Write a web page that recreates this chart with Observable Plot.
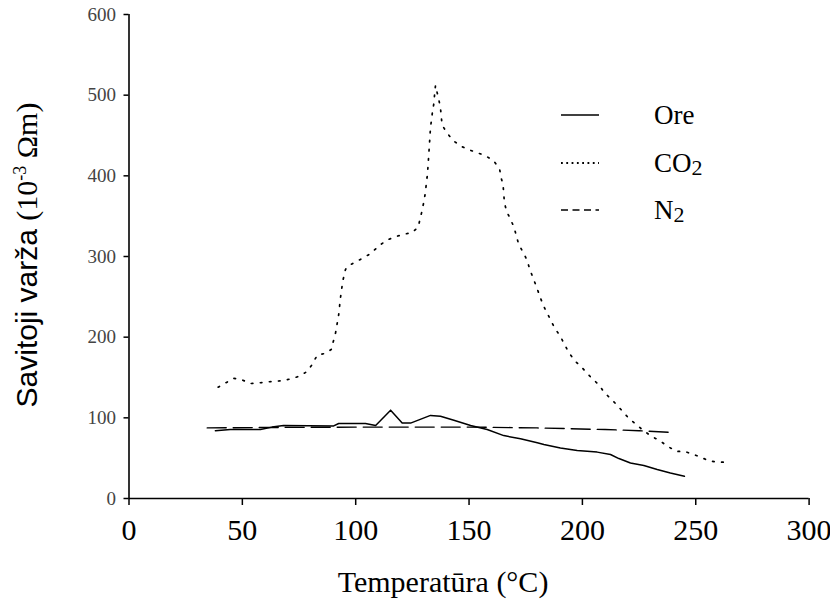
<!DOCTYPE html>
<html><head><meta charset="utf-8">
<script src="https://cdn.jsdelivr.net/npm/d3@7"></script>
<script src="https://cdn.jsdelivr.net/npm/@observablehq/plot@0.6"></script>
<style>body{margin:0;background:#fff} #chart{width:830px;height:599px}</style>
</head><body><div id="chart"></div>
<script>
// Temperature (°C) and resistivity (10^-3 Ωm)
const oreT = [38.1, 44.7, 58, 63.1, 68.2, 90.3, 92.5, 104.3, 108.8, 115.4, 120.5, 124.2, 133, 137.4, 143.3, 150.7, 158, 165.3, 172.7, 180.1, 183, 190.3, 197.7, 206.5, 212.4, 216.1, 221.2, 227.1, 233, 238.8, 245];
const oreV = [84, 85.5, 85.5, 88.5, 90.5, 90, 93, 93, 90.5, 109.5, 93.5, 93.5, 103, 102, 97, 90.5, 85.5, 78, 74, 69, 67, 62.5, 59.5, 57.5, 54.5, 49.5, 44, 41, 36, 31.5, 27.5];

const co2T = [39.3, 46.2, 49.9, 53.6, 56.5, 60.7, 67.6, 72, 75, 78.3, 80.8, 83, 86.6, 89.2, 91.1, 92.5, 93.2, 94.3, 95.5, 96.5, 102.9, 106.5, 110.6, 113.9, 117.5, 121.3, 124.9, 127.6, 128.5, 129.3, 130, 130.6, 131.5, 131.8, 132.3, 133, 133.9, 134.5, 134.8, 135.2, 135.9, 136.7, 137.4, 138.1, 140.1, 143, 147, 150.3, 157.2, 160.9, 163.5, 164.2, 165, 165.6, 166.5, 168.3, 169.8, 171.9, 174.2, 175.7, 176.8, 178.3, 179.8, 181.2, 182.3, 184, 185.9, 187.7, 190.3, 192.1, 194.1, 196.9, 199.9, 203.6, 207.2, 209.8, 213.5, 216.8, 220.1, 223.5, 227, 230.6, 234.5, 237.4, 241.5, 245, 248.6, 252.4, 255.7, 259.5, 263.6];
const co2V = [138, 149, 147, 142.5, 143, 144.5, 146, 148.7, 151.5, 157, 166, 177.6, 180, 184.7, 205, 228, 247, 269.6, 284, 288, 297.7, 303.5, 314, 320.5, 324.6, 327.6, 329.6, 336.6, 348, 357, 367, 377, 398, 408, 429, 460, 480, 490, 501, 512, 503.5, 494, 484, 463, 454, 443.5, 436, 432, 425, 418.6, 408, 397, 389, 367, 356.5, 346, 336.6, 315, 303.5, 294.4, 284, 273, 262, 251, 242.6, 232, 222, 211.6, 201, 191, 180.5, 170, 162, 150.7, 141, 131, 121, 111, 100.6, 92.3, 84, 77, 71, 65, 58.4, 58.4, 55, 51, 46.8, 45, 45];

const n2T = [34.5, 60, 100, 150, 180, 210, 225, 239];
const n2V = [87.5, 88, 88.5, 88.5, 87.5, 85.5, 84, 82];

const seriesNames = ["Ore", "CO2", "N2"];
const xTicks = [0, 50, 100, 150, 200, 250, 300];
const yTicks = [0, 100, 200, 300, 400, 500, 600];
const xLabel = "Temperatūra (°C)";

const rows = (name, T, V) => T.map((t, i) => ({series: name, t, v: V[i]}));
const ore = rows("Ore", oreT, oreV);
const co2 = rows("CO2", co2T, co2V);
const n2 = rows("N2", n2T, n2V);

const serif = "'Liberation Serif', 'Times New Roman', serif";
const sans = "'Liberation Sans', Arial, sans-serif";

const plot = Plot.plot({
  width: 830, height: 599,
  marginLeft: 128.5, marginRight: 21.4, marginTop: 14, marginBottom: 101,
  x: {domain: [0, 300]},
  y: {domain: [0, 600]},
  style: {background: "#fff", color: "#000", overflow: "visible"},
  marks: [
    Plot.axisY({ticks: yTicks, tickSize: 5, tickPadding: 8, fontSize: 19, fontFamily: serif, strokeWidth: 1.5, label: null}),
    Plot.axisX({ticks: xTicks, tickSize: 7, tickPadding: 13, fontSize: 30, fontFamily: serif, strokeWidth: 1.5, label: null}),
    Plot.ruleX([0], {y1: 0, y2: 600, strokeWidth: 1.6}),
    Plot.ruleY([0], {x1: 0, x2: 300, strokeWidth: 1.6}),
    Plot.line(n2, {x: "t", y: "v", stroke: "#000", strokeWidth: 1.4, strokeDasharray: "19,7"}),
    Plot.line(co2, {x: "t", y: "v", stroke: "#000", strokeWidth: 1.7, strokeDasharray: "1.6,7.5"}),
    Plot.line(ore, {x: "t", y: "v", stroke: "#000", strokeWidth: 1.5}),
    Plot.text([xLabel], {frameAnchor: "bottom", dx: -26, dy: 72, lineAnchor: "top", fontSize: 30, fontFamily: serif, fill: "#000"})
  ]
});
document.getElementById("chart").appendChild(plot);

const svg = d3.select(plot);
svg.selectAll('[aria-label="y-axis tick label"] text').attr("fill", "#444");

// Y axis title with superscript
const yt = svg.append("text")
  .attr("transform", "translate(37,255) rotate(-90)")
  .attr("text-anchor", "middle")
  .attr("fill", "#000");
yt.append("tspan").attr("font-family", sans).attr("font-size", 30).text("Savitoji varža ");
yt.append("tspan").attr("font-family", serif).attr("font-size", 30).text("(10");
yt.append("tspan").attr("font-family", serif).attr("font-size", 18).attr("dy", -11).text("-3");
yt.append("tspan").attr("font-family", serif).attr("font-size", 30).attr("dy", 11).text(" Ωm)");

// Legend
const legendStyles = [
  {dash: null, width: 1.5},
  {dash: "1.8,3.5", width: 2.2},
  {dash: "7,4.5", width: 1.4}
];
const legendY = [115, 163, 210];
const lg = svg.append("g");
seriesNames.forEach((name, i) => {
  const y = legendY[i];
  const ln = lg.append("line").attr("x1", 561).attr("x2", 599).attr("y1", y).attr("y2", y)
    .attr("stroke", "#000").attr("stroke-width", legendStyles[i].width);
  if (legendStyles[i].dash) ln.attr("stroke-dasharray", legendStyles[i].dash);
  const t = lg.append("text").attr("x", 654).attr("y", y + 9).attr("font-family", serif)
    .attr("text-anchor", "start").attr("font-size", 27).attr("fill", "#000");
  const m = name.match(/^([A-Za-z]+)(\d*)$/);
  t.append("tspan").text(m[1]);
  if (m[2]) t.append("tspan").attr("font-size", 22).attr("dy", 3).text(m[2]);
});
</script>
</body></html>
